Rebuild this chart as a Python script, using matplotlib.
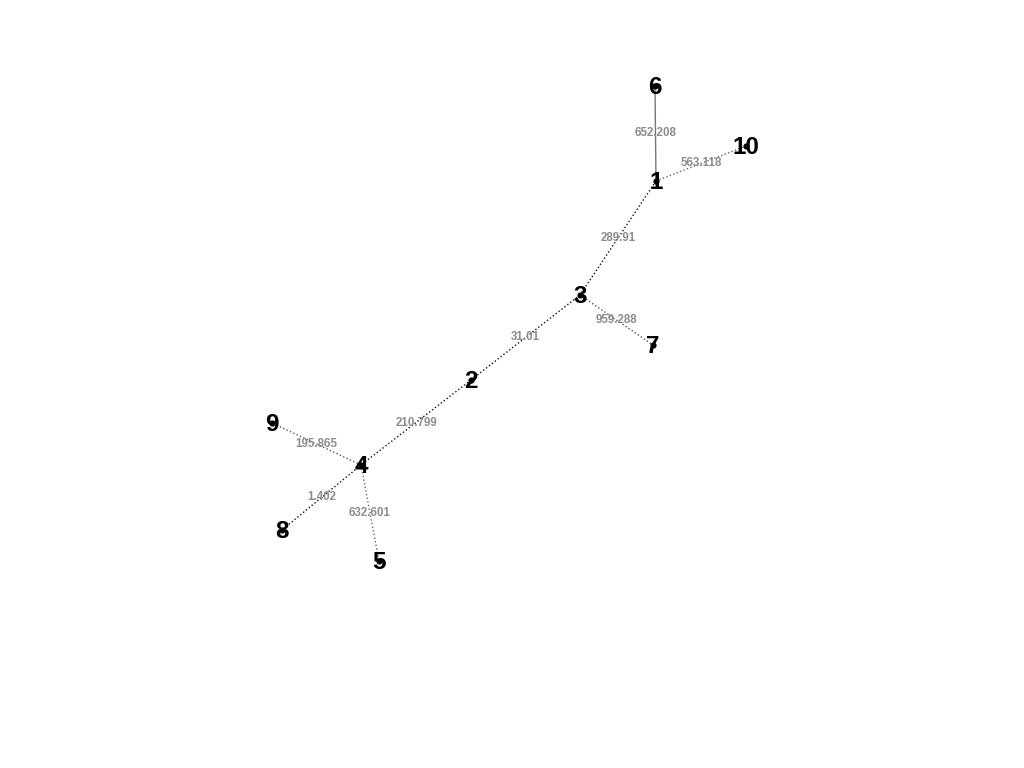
import matplotlib
matplotlib.use("Agg")
import matplotlib.pyplot as plt

# Node layout (layout coordinates, y grows downward)
node_ids = ["1", "2", "3", "4", "5", "6", "7", "8", "9", "10"]
node_x = [656, 471, 580, 361, 379, 655, 653, 282, 272, 746]
node_y = [181, 380, 295, 465, 561, 86, 345, 530, 423, 146]

# Edges and weights
edge_src = ["1", "1", "1", "3", "3", "2", "4", "4", "4"]
edge_dst = ["6", "10", "3", "7", "2", "4", "9", "8", "5"]
edge_weight = ["652.208", "563.118", "289.91", "959.288", "31.01", "210.799", "195.865", "1.402", "632.601"]
edge_style = ["-", ":", ":", ":", ":", ":", ":", ":", ":"]
edge_color = ["#777777", "#666666", "#111111", "#555555", "#111111", "#111111", "#555555", "#111111", "#666666"]

fig = plt.figure(figsize=(10.24, 7.68), dpi=100)
ax = fig.add_axes([0, 0, 1, 1])
ax.set_xlim(0, 1024)
ax.set_ylim(768, 0)
ax.axis("off")

pos = {n: (x, y) for n, x, y in zip(node_ids, node_x, node_y)}

for s, d, w, ls, c in zip(edge_src, edge_dst, edge_weight, edge_style, edge_color):
    x0, y0 = pos[s]
    x1, y1 = pos[d]
    ax.plot([x0, x1], [y0, y1], linestyle=ls, color=c, linewidth=1.0, zorder=2)
    ax.text((x0 + x1) / 2, (y0 + y1) / 2, w, color="#8c8c8c", fontsize=8.3,
            fontweight="bold", family="Liberation Sans", ha="center", va="center", zorder=3)

ax.scatter(node_x, node_y, s=12, color="black", zorder=4)
for n, x, y in zip(node_ids, node_x, node_y):
    ax.text(x, y + 1.5, n, fontsize=17.5, fontweight="bold", family="Liberation Sans",
            color="black", ha="center", va="center", zorder=5)

fig.savefig("out.png", dpi=100, facecolor="white")
